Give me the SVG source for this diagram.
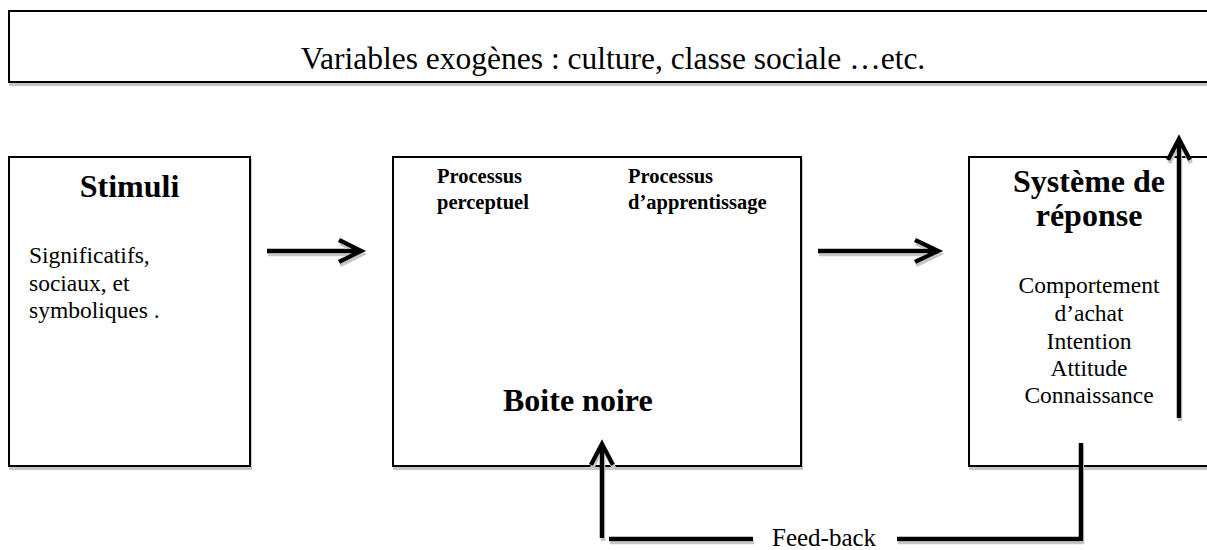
<svg xmlns="http://www.w3.org/2000/svg" width="1207" height="550" viewBox="0 0 1207 550">
  <defs>
    <filter id="shadow" x="-5%" y="-5%" width="110%" height="115%">
      <feDropShadow dx="1" dy="3" stdDeviation="0" flood-color="#c6c6c6" flood-opacity="1"/>
    </filter>
    <style>
      .box { fill: #fff; stroke: #000; stroke-width: 2; filter: url(#shadow); }
      .line { fill: none; stroke: #000; stroke-width: 4.5; stroke-linejoin: miter; stroke-linecap: butt; }
      .heavy { filter: url(#shadow); }
      text { font-family: "Liberation Serif", "Times New Roman", serif; fill: #000; }
      .head { font-size: 32px; font-weight: bold; }
      .sub { font-size: 20.5px; font-weight: bold; }
      .body { font-size: 23.5px; }
      .banner { font-size: 31.5px; }
      .mid { text-anchor: middle; }
    </style>
  </defs>
  <rect width="1207" height="550" fill="#fff"/>

  <!-- exogenous variables banner -->
  <g id="banner">
    <rect class="box" x="9" y="11" width="1215" height="71"/>
    <text class="banner mid" x="613" y="69">Variables exogènes : culture, classe sociale …etc.</text>
  </g>

  <!-- stimuli -->
  <g id="stimuli">
    <rect class="box" x="9" y="157" width="241" height="309"/>
    <text class="head mid" x="129.5" y="197">Stimuli</text>
    <text class="body" x="29" y="263">Significatifs,</text>
    <text class="body" x="29" y="291">sociaux, et</text>
    <text class="body" x="29" y="318">symboliques .</text>
  </g>

  <!-- black box -->
  <g id="boite-noire">
    <rect class="box" x="393" y="157" width="408" height="309"/>
    <text class="sub" x="437" y="183">Processus</text>
    <text class="sub" x="437" y="209">perceptuel</text>
    <text class="sub" x="628" y="183">Processus</text>
    <text class="sub" x="628" y="209">d’apprentissage</text>
    <path class="line heavy" d="M386,347 H794"/>
    <text class="head" x="503" y="411">Boite noire</text>
  </g>

  <!-- response system -->
  <g id="reponse">
    <rect class="box" x="969" y="157" width="250" height="309"/>
    <text class="head mid" x="1089" y="192">Système de</text>
    <text class="head mid" x="1089" y="226">réponse</text>
    <text class="body mid" x="1089" y="293">Comportement</text>
    <text class="body mid" x="1089" y="321">d’achat</text>
    <text class="body mid" x="1089" y="349">Intention</text>
    <text class="body mid" x="1089" y="376">Attitude</text>
    <text class="body mid" x="1089" y="403">Connaissance</text>
  </g>

  <!-- connectors -->
  <g id="connectors" class="line heavy">
    <path d="M267,251 H358 M339,240 L361,251 L339,262"/>
    <path d="M818,251 H935 M915,240 L938,251 L915,262"/>
    <path d="M1179,418 V142 M1168,160 L1179,139 L1190,160"/>
    <path d="M1081,443 V539 H897"/>
    <path d="M753,539 H609"/>
    <path d="M602,538 V447 M591,465 L602,444 L613,465"/>
  </g>
  <text id="feedback-label" class="body" style="font-size:25px" x="772" y="546">Feed-back</text>
</svg>
